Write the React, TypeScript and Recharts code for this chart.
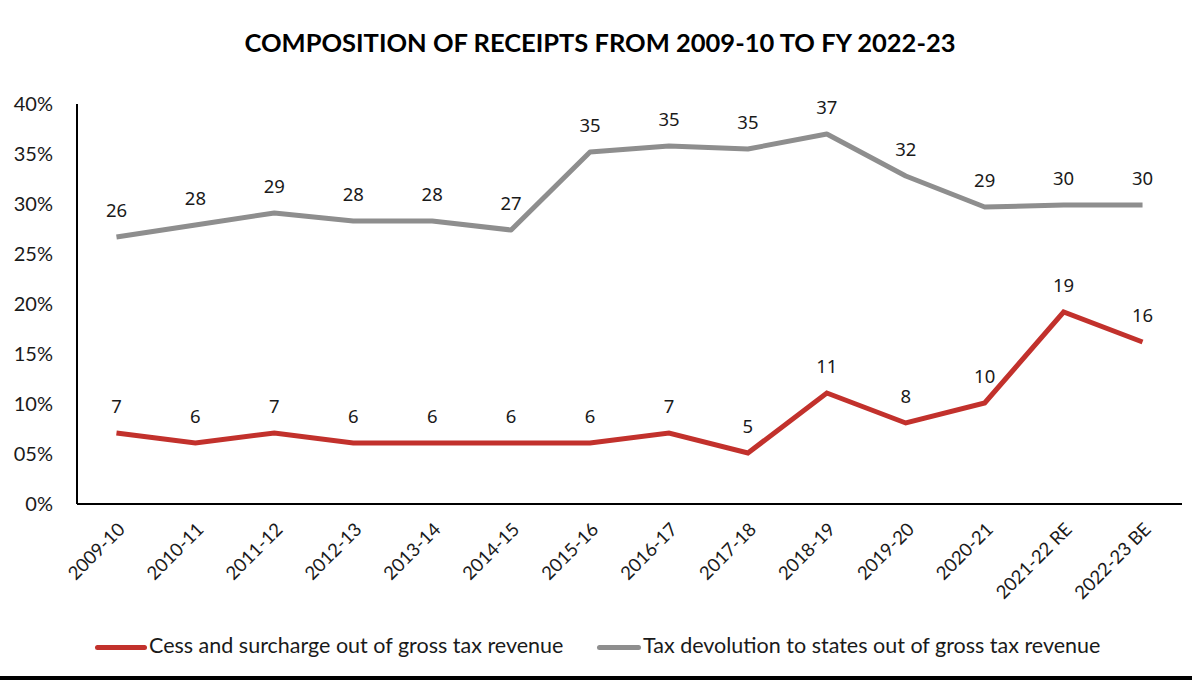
import React from 'react';
import { LineChart, Line, XAxis, YAxis, LabelList, Legend } from 'recharts';

const categories = [
  '2009-10', '2010-11', '2011-12', '2012-13', '2013-14', '2014-15', '2015-16',
  '2016-17', '2017-18', '2018-19', '2019-20', '2020-21', '2021-22 RE', '2022-23 BE',
];
const cessValues = [7.1, 6.1, 7.1, 6.1, 6.1, 6.1, 6.1, 7.1, 5.1, 11.1, 8.1, 10.1, 19.2, 16.2];
const devolutionValues = [26.7, 27.9, 29.1, 28.3, 28.3, 27.4, 35.2, 35.8, 35.5, 37.0, 32.8, 29.7, 29.9, 29.9];
const cessLabels = [7, 6, 7, 6, 6, 6, 6, 7, 5, 11, 8, 10, 19, 16];
const devolutionLabels = [26, 28, 29, 28, 28, 27, 35, 35, 35, 37, 32, 29, 30, 30];
const yTicks = [0, 5, 10, 15, 20, 25, 30, 35, 40];

const RED = '#c2312c';
const GREY = '#8e8e8e';

const data = categories.map((name, i) => ({
  name,
  cess: cessValues[i],
  devolution: devolutionValues[i],
  cessLabel: cessLabels[i],
  devolutionLabel: devolutionLabels[i],
}));

const yFmt = (v: number) => (v > 0 && v < 10 ? `0${v}%` : `${v}%`);

// rotated category labels
const XTick = (props: any) => {
  const { x, y, payload } = props;
  const ax = x + 5;
  const ay = y + 14;
  return (
    <text
      x={ax}
      y={ay}
      transform={`rotate(-45, ${ax}, ${ay})`}
      textAnchor="end"
      dy="0.35em"
      fontSize={18.5}
      fontFamily="Lato"
      fill="#1a1a1a"
    >
      {payload.value}
    </text>
  );
};

const LegendContent = () => (
  <div style={{ position: 'relative', height: 30, fontFamily: 'Lato', fontSize: 21.5, color: '#1a1a1a' }}>
    <div style={{ position: 'absolute', left: 95, top: 15, width: 52, height: 5, borderRadius: 3, background: RED }} />
    <div style={{ position: 'absolute', left: 149, top: 2, whiteSpace: 'nowrap' }}>Cess and surcharge out of gross tax revenue</div>
    <div style={{ position: 'absolute', left: 597, top: 15, width: 44, height: 5, borderRadius: 3, background: GREY }} />
    <div style={{ position: 'absolute', left: 643, top: 2, whiteSpace: 'nowrap' }}>Tax devolution to states out of gross tax revenue</div>
  </div>
);

export default function App() {
  return (
    <div style={{ position: 'absolute', left: 0, top: 0, width: 1200, height: 691, background: '#fff', overflow: 'hidden' }}>
      <div
        style={{
          position: 'absolute', top: 27, left: 0, width: 1200, textAlign: 'center',
          fontFamily: 'Lato', fontWeight: 700, fontSize: 25.5, color: '#000',
        }}
      >
        COMPOSITION OF RECEIPTS FROM 2009-10 TO FY 2022-23
      </div>
      <LineChart
        width={1200}
        height={691}
        data={data}
        margin={{ top: 104, right: 18, bottom: 47, left: 0 }}
      >
        <XAxis
          dataKey="name"
          scale="band"
          height={110}
          axisLine={{ stroke: '#000', strokeWidth: 2 }}
          tickLine={false}
          interval={0}
          tick={<XTick />}
        />
        <YAxis
          width={77}
          domain={[0, 40]}
          ticks={yTicks}
          tickFormatter={yFmt}
          axisLine={{ stroke: '#000', strokeWidth: 2 }}
          tickLine={false}
          tickMargin={18}
          tick={{ fontSize: 20, fontFamily: 'Lato', fill: '#1a1a1a' }}
        />
        <Legend
          verticalAlign="bottom"
          content={<LegendContent />}
          wrapperStyle={{ left: 0, top: 630, width: 1200 }}
        />
        <Line
          dataKey="devolution"
          stroke={GREY}
          strokeWidth={5}
          dot={false}
          strokeLinejoin="round"
          isAnimationActive={false}
        >
          <LabelList dataKey="devolutionLabel" position="top" offset={20} fontSize={18.5} fontFamily="Noto Sans" fill="#1a1a1a" />
        </Line>
        <Line
          dataKey="cess"
          stroke={RED}
          strokeWidth={5}
          dot={false}
          isAnimationActive={false}
        >
          <LabelList dataKey="cessLabel" position="top" offset={20} fontSize={18.5} fontFamily="Noto Sans" fill="#1a1a1a" />
        </Line>
      </LineChart>
      <div style={{ position: 'absolute', left: 0, top: 676, width: 1192, height: 4, background: '#000' }} />
    </div>
  );
}
